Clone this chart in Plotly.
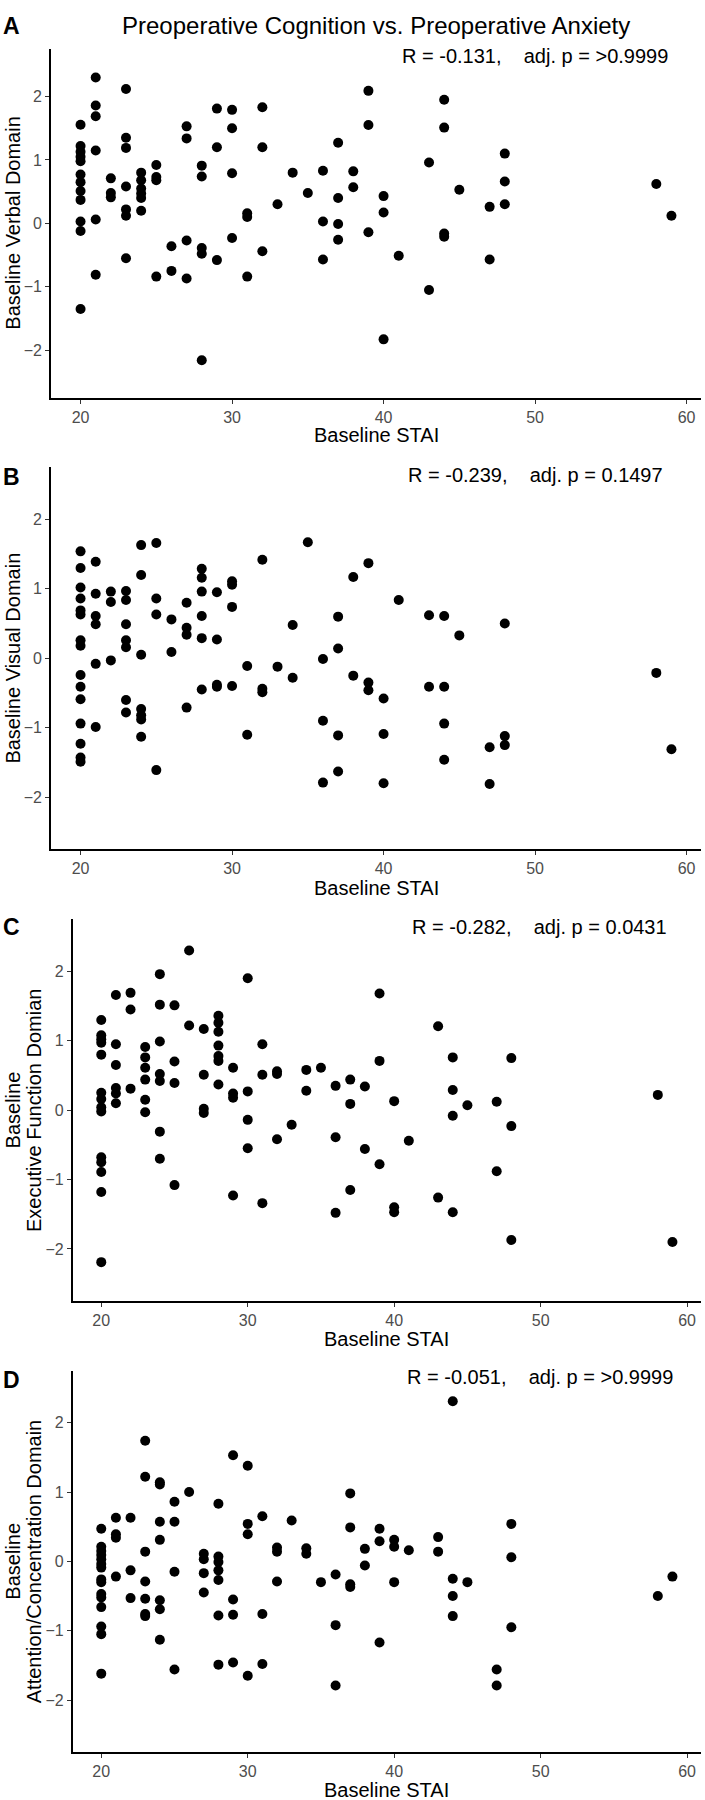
import plotly.graph_objects as go

# ---------------- data ----------------
stai_verbal = [20,20,20,20,20,20,20,20,20,20,20,20,
               21,21,21,21,21,21, 22,22,22, 23,23,23,23,23,23,23,
               24,24,24,24,24,24, 25,25,25,25, 26,26, 27,27,27,27,
               28,28,28,28,28, 29,29,29, 30,30,30,30, 31,31,31, 32,32,32,
               33, 34, 35, 36,36,36, 37,37,37,37, 38,38, 39,39,39,
               40,40,40, 41, 43,43, 44,44,44,44, 45, 47,47, 48,48,48, 58, 59]
verbal = [1.555, 1.22, 1.13, 1.05, 0.98, 0.77, 0.65, 0.51, 0.37, 0.03, -0.12, -1.35,
          2.30, 1.86, 1.69, 1.15, 0.06, -0.81, 0.71, 0.48, 0.41,
          2.12, 1.35, 1.19, 0.58, 0.22, 0.12, -0.55,
          0.80, 0.68, 0.55, 0.47, 0.40, 0.20, 0.92, 0.73, 0.68, -0.84, -0.36, -0.75,
          1.53, 1.34, -0.27, -0.87, 0.91, 0.74, -0.39, -0.48, -2.16,
          1.81, 1.20, -0.58, 1.79, 1.50, 0.79, -0.23, 0.16, 0.10, -0.84, 1.83, 1.20, -0.44,
          0.30, 0.80, 0.48, 0.83, 0.03, -0.57, 1.27, 0.40, -0.01, -0.26, 0.82, 0.57,
          2.09, 1.55, -0.14, 0.43, 0.17, -1.83, -0.51, 0.96, -1.05,
          1.95, 1.51, -0.16, -0.21, 0.53, 0.26, -0.57, 1.10, 0.66, 0.30, 0.62, 0.12]

stai_visual = [20,20,20,20,20,20,20,20,20,20,20,20,20,20,20,
               21,21,21,21,21,21, 22,22,22, 23,23,23,23,23,23,23,
               24,24,24,24,24,24,24, 25,25,25,25, 26,26, 27,27,27,27,
               28,28,28,28,28,28, 29,29,29,29, 30,30,30,30, 31,31, 32,32,32,
               33, 34,34, 35, 36,36,36, 37,37,37,37, 38,38, 39,39,39,
               40,40,40, 41, 43,43, 44,44,44,44, 45, 47,47, 48,48,48, 58, 59]
visual = [1.54, 1.30, 1.02, 0.86, 0.69, 0.63, 0.26, 0.18, -0.24, -0.41, -0.59, -0.94, -1.23, -1.43, -1.49,
          1.39, 0.93, 0.61, 0.49, -0.08, -0.99, 0.96, 0.81, -0.03,
          0.97, 0.84, 0.49, 0.26, 0.16, -0.60, -0.78,
          1.63, 1.20, 0.05, -0.73, -0.82, -0.88, -1.13, 1.66, 0.86, 0.63, -1.61, 0.56, 0.09,
          0.80, 0.44, 0.34, -0.71, 1.29, 1.16, 0.96, 0.61, 0.29, -0.45,
          0.95, 0.27, -0.38, -0.41, 1.11, 1.06, 0.74, -0.40, -0.11, -1.10, 1.42, -0.44, -0.49,
          -0.12, 0.48, -0.28, 1.67, -0.01, -0.90, -1.79, 0.60, 0.14, -1.11, -1.63, 1.17, -0.25,
          1.37, -0.35, -0.46, -0.58, -1.09, -1.80, 0.84, 0.62, -0.41,
          0.61, -0.41, -0.94, -1.46, 0.33, -1.28, -1.81, 0.50, -1.12, -1.25, -0.21, -1.31]

stai_exec = [20,20,20,20,20,20,20,20,20,20,20,20,20,20,
             21,21,21,21,21,21, 22,22,22, 23,23,23,23,23,23,
             24,24,24,24,24,24,24, 25,25,25,25, 26,26, 27,27,27,27,
             28,28,28,28,28,28,28, 29,29,29,29, 30,30,30,30, 31,31,31, 32,32,32,
             33, 34,34, 35, 36,36,36, 37,37,37, 38,38, 39,39,39,
             40,40,40, 41, 43,43, 44,44,44,44, 45, 47,47, 48,48,48, 58, 59]
executive = [1.30, 1.08, 1.02, 0.97, 0.80, 0.25, 0.16, 0.04, -0.02, -0.68, -0.75, -0.89, -1.18, -2.19,
             1.66, 0.95, 0.65, 0.32, 0.24, 0.10, 1.69, 1.45, 0.31,
             0.91, 0.76, 0.61, 0.44, 0.15, -0.03,
             1.96, 1.52, 0.99, 0.52, 0.42, -0.31, -0.70, 1.51, 0.70, 0.39, -1.08, 2.30, 1.22,
             1.17, 0.51, 0.02, -0.04, 1.36, 1.26, 1.13, 0.93, 0.78, 0.71, 0.37,
             0.61, 0.24, 0.18, -1.23, 1.90, 0.27, -0.14, -0.55, 0.95, 0.51, -1.34, 0.56, 0.52, -0.42,
             -0.21, 0.58, 0.28, 0.61, 0.35, -0.39, -1.48, 0.44, 0.09, -1.15, 0.34, -0.56,
             1.68, 0.71, -0.78, 0.13, -1.40, -1.47, -0.44, 1.21, -1.26,
             0.76, 0.29, -0.08, -1.47, 0.07, 0.12, -0.88, 0.75, -0.23, -1.87, 0.22, -1.90]

stai_attention = [20,20,20,20,20,20,20,20,20,20,20,20,20,20,20,
                  21,21,21,21, 22,22,22, 23,23,23,23,23,23,23,
                  24,24,24,24,24,24,24, 25,25,25,25, 26, 27,27,27,27,
                  28,28,28,28,28,28,28, 29,29,29,29, 30,30,30,30, 31,31,31, 32,32,32,
                  33, 34,34, 35, 36,36,36, 37,37,37,37, 38,38, 39,39,39,
                  40,40,40, 41, 43,43, 44,44,44,44, 45, 47,47, 48,48,48, 58, 59]
attention = [0.47, 0.21, 0.15, 0.09, 0.03, -0.04, -0.09, -0.26, -0.30, -0.47, -0.52, -0.66, -0.94, -1.05, -1.62,
             0.63, 0.39, 0.34, -0.22, 0.63, -0.13, -0.53,
             1.74, 1.22, 0.14, -0.29, -0.54, -0.76, -0.79,
             1.14, 1.11, 0.57, 0.31, -0.56, -0.69, -1.13, 0.86, 0.57, -0.15, -1.56, 1.00,
             0.11, 0.03, -0.17, -0.45, 0.83, 0.07, -0.01, -0.13, -0.27, -0.78, -1.49,
             1.53, -0.55, -0.77, -1.46, 1.38, 0.54, 0.39, -1.65, 0.65, -0.76, -1.48, 0.20, 0.14, -0.29,
             0.59, 0.19, 0.11, -0.30, -0.19, -0.92, -1.79, 0.98, 0.49, -0.33, -0.37, 0.18, -0.06,
             0.47, 0.29, -1.17, 0.31, 0.21, -0.30, 0.16, 0.35, 0.14,
             2.31, -0.25, -0.50, -0.79, -0.30, -1.56, -1.79, 0.54, 0.06, -0.95, -0.50, -0.22]

panel_letters = ["A", "B", "C", "D"]
y_titles = [["Baseline Verbal Domain"], ["Baseline Visual Domain"],
            ["Baseline", "Executive Function Domian"],
            ["Baseline", "Attention/Concentration Domain"]]
stat_labels = ["R = -0.131,    adj. p = >0.9999",
               "R = -0.239,    adj. p = 0.1497",
               "R = -0.282,    adj. p = 0.0431",
               "R = -0.051,    adj. p = >0.9999"]
x_title = "Baseline STAI"
main_title = "Preoperative Cognition vs. Preoperative Anxiety"
x_ticks = [20, 30, 40, 50, 60]
y_ticks = [-2, -1, 0, 1, 2]

# ---------------- layout (pixel geometry) ----------------
W, H = 705, 1800
FONT = "Liberation Sans, Arial, Helvetica, sans-serif"

def px_x(p):
    return p / W

def px_y(p):
    return 1 - p / H

# plot area boxes in pixels: (left, right, top, bottom)
boxes = [(51, 701, 49, 397.7),
         (51, 701, 467.3, 849.3),
         (72.7, 701, 919.3, 1301),
         (72.7, 701, 1370.7, 1752)]
letter_y = [25.8, 476.7, 927.5, 1380]
stat_pos = [(534.5, 55.5), (535, 475), (539.7, 926.7), (540, 1376.7)]
xtitle_y = [434.5, 887.5, 1338.5, 1789.5]

series = [(stai_verbal, verbal), (stai_visual, visual),
          (stai_exec, executive), (stai_attention, attention)]

fig = go.Figure()
annotations = []
layout_axes = {}

for i, ((xs, ys), (l, r, t, b)) in enumerate(zip(series, boxes)):
    n = "" if i == 0 else str(i + 1)
    fig.add_trace(go.Scatter(
        x=xs, y=ys, mode="markers",
        marker=dict(color="black", size=10, line=dict(width=0)),
        xaxis="x" + n, yaxis="y" + n, showlegend=False,
        hovertemplate="STAI %{x}<br>%{y:.2f}<extra></extra>"))
    axis_common = dict(showline=True, linecolor="black", linewidth=1.6,
                       ticks="outside", ticklen=4, tickwidth=1.2, tickcolor="#333333",
                       tickfont=dict(family=FONT, size=16, color="#4D4D4D"),
                       showgrid=False, zeroline=False, fixedrange=True)
    layout_axes["xaxis" + n] = dict(axis_common, domain=[px_x(l), px_x(r)],
                                    anchor="y" + n, range=[18.05, 60.95],
                                    tickvals=x_ticks)
    layout_axes["yaxis" + n] = dict(axis_common, domain=[px_y(b), px_y(t)],
                                    anchor="x" + n, range=[-2.75, 2.75],
                                    tickvals=y_ticks)
    # panel letter
    annotations.append(dict(text="<b>%s</b>" % panel_letters[i], x=px_x(11.7), y=px_y(letter_y[i]),
                            xref="paper", yref="paper", showarrow=False,
                            xanchor="center", yanchor="middle",
                            font=dict(family=FONT, size=23, color="black")))
    # statistics text
    sx, sy = stat_pos[i]
    annotations.append(dict(text=stat_labels[i].replace(" ", "\u00a0"), x=px_x(sx), y=px_y(sy),
                            xref="paper", yref="paper", showarrow=False,
                            xanchor="center", yanchor="middle",
                            font=dict(family=FONT, size=20, color="black")))
    # x title
    annotations.append(dict(text=x_title, x=px_x((l + r) / 2), y=px_y(xtitle_y[i]),
                            xref="paper", yref="paper", showarrow=False,
                            xanchor="center", yanchor="middle",
                            font=dict(family=FONT, size=20, color="black")))
    # y title (one or two lines)
    lines = y_titles[i]
    xs_lines = [13.3] if len(lines) == 1 else [13.3, 33.9]
    for txt, lx in zip(lines, xs_lines):
        annotations.append(dict(text=txt, x=px_x(lx), y=px_y((t + b) / 2),
                                xref="paper", yref="paper", showarrow=False,
                                xanchor="center", yanchor="middle", textangle=-90,
                                font=dict(family=FONT, size=20, color="black")))

# main title
annotations.append(dict(text=main_title, x=px_x(375.5), y=px_y(25.5),
                        xref="paper", yref="paper", showarrow=False,
                        xanchor="center", yanchor="middle",
                        font=dict(family=FONT, size=24, color="black")))

fig.update_layout(width=W, height=H, autosize=False,
                  margin=dict(l=0, r=0, t=0, b=0),
                  paper_bgcolor="white", plot_bgcolor="white",
                  font=dict(family=FONT, color="black"),
                  annotations=annotations, **layout_axes)

# remove the default 8px page margin so the figure sits at the window origin
fig.write_html("out.html",
               config={"displayModeBar": False},
               post_script="document.body.style.margin='0';"
                           "document.body.style.overflow='hidden';")
